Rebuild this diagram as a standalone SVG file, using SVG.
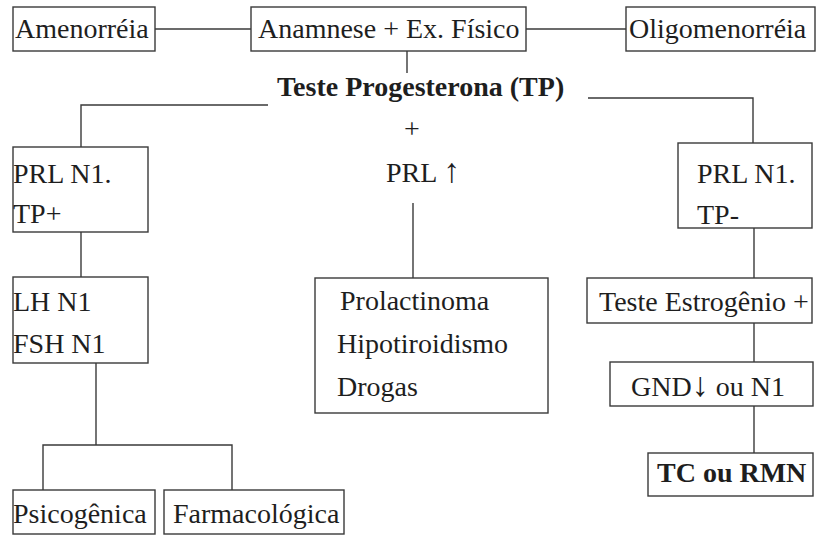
<svg xmlns="http://www.w3.org/2000/svg" width="816" height="535" viewBox="0 0 816 535">
  <style>
    .box { fill: #ffffff; stroke: #3a3a3a; stroke-width: 1.4; }
    .link { fill: none; stroke: #3a3a3a; stroke-width: 1.4; }
    text { font-family: "Liberation Serif", "DejaVu Serif", serif; font-size: 28px; fill: #1e1e1e; }
    .bold { font-weight: bold; }
    .arrow { font-size: 34px; }
  </style>
  <rect width="816" height="535" fill="#ffffff"/>

  <!-- connectors -->
  <g id="connectors">
    <line class="link" x1="155" y1="29" x2="251" y2="29"/>
    <line class="link" x1="526" y1="29" x2="626" y2="29"/>
    <line class="link" x1="407" y1="51" x2="407" y2="73"/>
    <polyline class="link" points="268,105 81,105 81,147"/>
    <polyline class="link" points="588,98 753,98 753,143"/>
    <line class="link" x1="81" y1="232" x2="81" y2="277"/>
    <line class="link" x1="96" y1="363" x2="96" y2="445"/>
    <polyline class="link" points="43,490 43,445 232,445 232,490"/>
    <line class="link" x1="413" y1="203" x2="413" y2="278"/>
    <line class="link" x1="754" y1="228" x2="754" y2="278"/>
    <line class="link" x1="754" y1="323" x2="754" y2="362"/>
    <line class="link" x1="754" y1="406" x2="754" y2="453"/>
  </g>

  <!-- top row -->
  <g id="amenorreia">
    <rect class="box" x="13" y="7" width="142" height="44"/>
    <text x="15" y="38">Amenorréia</text>
  </g>
  <g id="anamnese">
    <rect class="box" x="251" y="7" width="275" height="44"/>
    <text x="258" y="38">Anamnese + Ex. Físico</text>
  </g>
  <g id="oligomenorreia">
    <rect class="box" x="626" y="7" width="189" height="44"/>
    <text x="629" y="38">Oligomenorréia</text>
  </g>

  <!-- progesterone test -->
  <g id="teste-progesterona">
    <text class="bold" x="277" y="96" font-size="29">Teste Progesterona (TP)</text>
  </g>

  <!-- left branch -->
  <g id="prl-tp-pos">
    <rect class="box" x="13" y="147" width="135" height="85"/>
    <text x="13" y="183">PRL N1.</text>
    <text x="13" y="223">TP+</text>
  </g>
  <g id="lh-fsh">
    <rect class="box" x="13" y="277" width="135" height="86"/>
    <text x="13" y="311">LH N1</text>
    <text x="13" y="353">FSH N1</text>
  </g>
  <g id="psicogenica">
    <rect class="box" x="13" y="490" width="142" height="44"/>
    <text x="13" y="523">Psicogênica</text>
  </g>
  <g id="farmacologica">
    <rect class="box" x="164" y="490" width="180" height="44"/>
    <text x="173" y="523">Farmacológica</text>
  </g>

  <!-- middle branch -->
  <g id="prl-alta">
    <text x="412" y="138" text-anchor="middle" font-size="20">+</text>
    <text x="386" y="182">PRL <tspan class="arrow">↑</tspan></text>
  </g>
  <g id="causas">
    <rect class="box" x="315" y="278" width="233" height="135"/>
    <text x="340" y="310">Prolactinoma</text>
    <text x="337" y="353">Hipotiroidismo</text>
    <text x="337" y="396">Drogas</text>
  </g>

  <!-- right branch -->
  <g id="prl-tp-neg">
    <rect class="box" x="678" y="143" width="134" height="85"/>
    <text x="697" y="183">PRL N1.</text>
    <text x="697" y="224">TP-</text>
  </g>
  <g id="teste-estrogenio">
    <rect class="box" x="587" y="278" width="225" height="45"/>
    <text x="599" y="311">Teste Estrogênio +</text>
  </g>
  <g id="gnd">
    <rect class="box" x="610" y="362" width="203" height="44"/>
    <text x="631" y="396">GND<tspan class="arrow">↓</tspan> ou N1</text>
  </g>
  <g id="tc-rmn">
    <rect class="box" x="648" y="453" width="165" height="43"/>
    <text class="bold" x="657" y="482">TC ou RMN</text>
  </g>
</svg>
